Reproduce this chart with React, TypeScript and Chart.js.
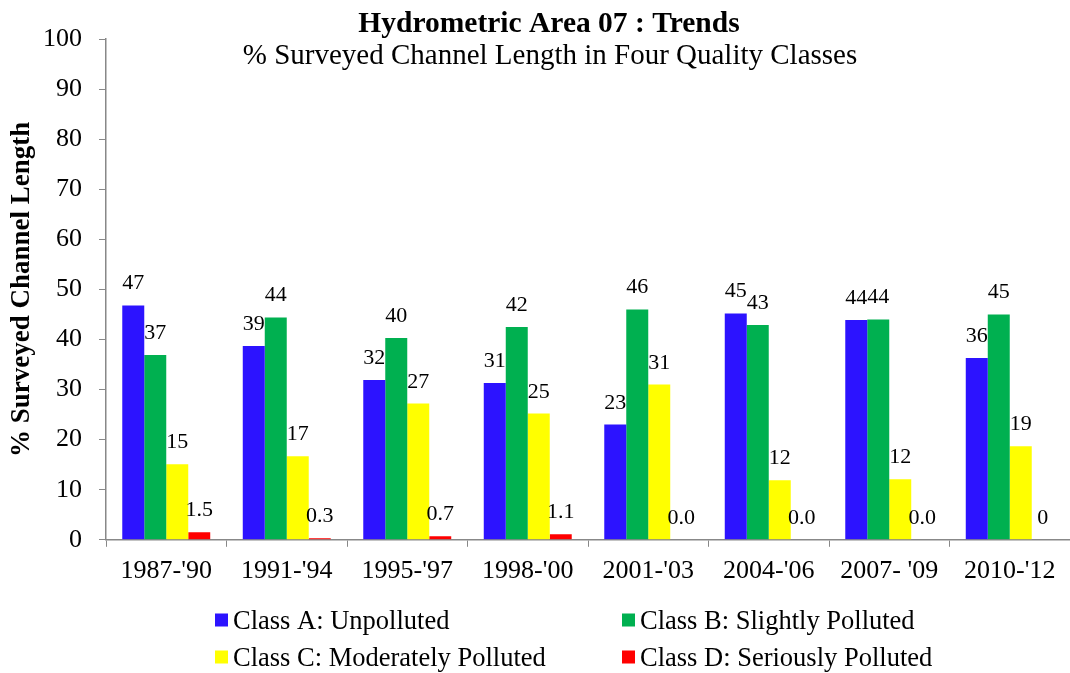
import React, { useEffect, useRef } from "react";
import { Chart, registerables } from "chart.js";

Chart.register(...registerables);

const categories = ["1987-'90", "1991-'94", "1995-'97", "1998-'00", "2001-'03", "2004-'06", "2007- '09", "2010-'12"];
const classA = [46.8, 38.7, 31.9, 31.3, 23.0, 45.2, 43.9, 36.3];
const classB = [36.9, 44.4, 40.3, 42.5, 46.0, 42.9, 44.0, 45.0];
const classC = [15.1, 16.7, 27.2, 25.2, 31.0, 11.9, 12.1, 18.7];
const classD = [1.5, 0.3, 0.7, 1.1, 0.0, 0.0, 0.0, 0.0];
const labelsA = ["47", "39", "32", "31", "23", "45", "44", "36"];
const labelsB = ["37", "44", "40", "42", "46", "43", "44", "45"];
const labelsC = ["15", "17", "27", "25", "31", "12", "12", "19"];
const labelsD = ["1.5", "0.3", "0.7", "1.1", "0.0", "0.0", "0.0", "0"];
const seriesNames = [
  "Class A: Unpolluted",
  "Class B: Slightly Polluted",
  "Class C: Moderately Polluted",
  "Class D: Seriously Polluted",
];
const yTicks = [0, 10, 20, 30, 40, 50, 60, 70, 80, 90, 100];
const titleText = "Hydrometric Area 07 : Trends";
const subtitleText = "% Surveyed Channel Length in Four Quality Classes";
const yTitle = "% Surveyed Channel Length";

const COLORS = ["#2C13FF", "#00B050", "#FFFF00", "#FF0000"];
const FONT = "'Liberation Serif', 'Times New Roman', serif";

const valueLabelPlugin = {
  id: "valueLabels",
  afterDatasetsDraw(chart: any) {
    const ctx = chart.ctx;
    const allLabels = [labelsA, labelsB, labelsC, labelsD];
    ctx.save();
    ctx.font = `22px ${FONT}`;
    ctx.fillStyle = "#000";
    ctx.textAlign = "center";
    ctx.textBaseline = "alphabetic";
    chart.data.datasets.forEach((ds: any, di: number) => {
      const meta = chart.getDatasetMeta(di);
      meta.data.forEach((bar: any, i: number) => {
        ctx.fillText(allLabels[di][i], bar.x, bar.y - 16);
      });
    });
    ctx.restore();
  },
};

const titleLegendPlugin = {
  id: "titleLegend",
  afterDraw(chart: any) {
    const ctx = chart.ctx;
    ctx.save();
    ctx.fillStyle = "#000";
    ctx.textAlign = "center";
    ctx.textBaseline = "alphabetic";
    ctx.font = `bold 29.5px ${FONT}`;
    ctx.fillText(titleText, 549, 32);
    ctx.font = `29px ${FONT}`;
    ctx.fillText(subtitleText, 550, 64);

    const pos = [
      [215, 620],
      [622, 620],
      [215, 657],
      [622, 657],
    ];
    ctx.textAlign = "left";
    ctx.font = `26.5px ${FONT}`;
    seriesNames.forEach((name, i) => {
      const [x, y] = pos[i];
      ctx.fillStyle = COLORS[i];
      ctx.fillRect(x, y - 6.5, 13, 13);
      ctx.fillStyle = "#000";
      ctx.fillText(name, x + 18, y + 9);
    });
    ctx.restore();
  },
};

export default function App() {
  const ref = useRef<HTMLCanvasElement | null>(null);
  useEffect(() => {
    document.body.style.margin = "0";
    if (!ref.current) return;
    const mk = (label: string, data: number[], color: string) => ({
      label,
      data,
      backgroundColor: color,
      borderWidth: 0,
      barPercentage: 1.0,
      categoryPercentage: 0.73,
    });
    const chart = new Chart(ref.current, {
      type: "bar",
      data: {
        labels: categories,
        datasets: [
          mk(seriesNames[0], classA, COLORS[0]),
          mk(seriesNames[1], classB, COLORS[1]),
          mk(seriesNames[2], classC, COLORS[2]),
          mk(seriesNames[3], classD, COLORS[3]),
        ],
      },
      options: {
        animation: false,
        responsive: false,
        maintainAspectRatio: false,
        layout: { padding: { top: 39, left: 2, right: -5, bottom: 77 } },
        plugins: {
          legend: { display: false },
          title: { display: false },
          tooltip: { enabled: false },
        },
        scales: {
          x: {
            grid: {
              display: true,
              offset: true,
              drawOnChartArea: false,
              drawTicks: true,
              tickLength: 7,
              color: "#888",
            },
            border: { display: true, color: "#888", width: 1.5 },
            ticks: {
              color: "#000",
              font: { family: FONT, size: 26 },
              padding: 9,
              maxRotation: 0,
              autoSkip: false,
            },
          },
          y: {
            min: 0,
            max: 100,
            afterBuildTicks(scale: any) {
              scale.ticks = yTicks.map((v) => ({ value: v }));
            },
            afterFit(scale: any) {
              scale.width = 104;
            },
            grid: {
              display: true,
              drawOnChartArea: false,
              drawTicks: true,
              tickLength: 7,
              color: "#888",
            },
            border: { display: true, color: "#888", width: 1.5 },
            ticks: {
              color: "#000",
              font: { family: FONT, size: 26 },
              padding: 17,
            },
            title: {
              display: true,
              text: yTitle,
              color: "#000",
              font: { family: FONT, size: 27, weight: "bold" },
              padding: { top: 4, bottom: 4.6 },
            },
          },
        },
      },
      plugins: [valueLabelPlugin, titleLegendPlugin],
    } as any);
    return () => chart.destroy();
  }, []);
  return <canvas ref={ref} width={1070} height={673} style={{ display: "block" }} />;
}
